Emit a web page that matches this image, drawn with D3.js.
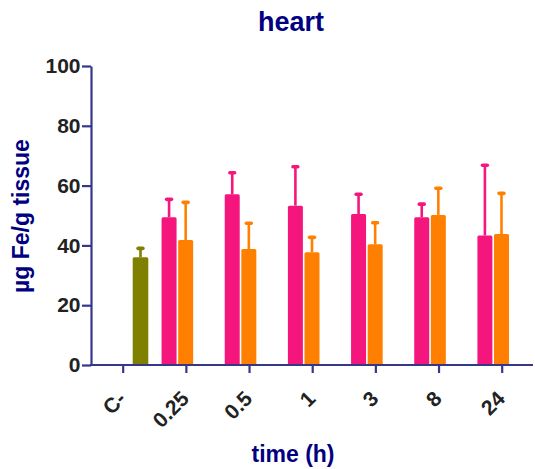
<!DOCTYPE html>
<html>
<head>
<meta charset="utf-8">
<script src="https://cdn.jsdelivr.net/npm/d3@7"></script>
<style>
  body { margin: 0; background: #fff; }
  svg text { font-family: "Liberation Sans", Arial, Helvetica, sans-serif; font-weight: bold; }
</style>
</head>
<body>
<div id="chart"></div>
<script>
// categories on the x axis (time in hours, C- = control)
var categories = ["C-", "0.25", "0.5", "1", "3", "8", "24"];
var yTicks = [0, 20, 40, 60, 80, 100];

// control group (only C-)
var controlMean = [36.0, null, null, null, null, null, null];
var controlErr  = [3.0, null, null, null, null, null, null];

// pink series
var pinkMean = [null, 49.4, 57.1, 53.3, 50.5, 49.4, 43.3];
var pinkErr  = [null, 6.0, 7.2, 13.0, 6.6, 4.4, 23.5];

// orange series
var orangeMean = [null, 41.8, 38.8, 37.7, 40.4, 50.2, 43.8];
var orangeErr  = [null, 12.6, 8.6, 5.0, 7.2, 8.9, 13.6];

function init(){
	var w = 535, h = 469;
	var axisColor = "#34378a";
	var navy = "#000080";

	var svg = d3.select("#chart")
				.append("svg")
				.attr("width", w)
				.attr("height", h);

	var x = d3.scalePoint()
				.domain(categories)
				.range([122.7, 501.7]);
	var y = d3.scaleLinear()
				.domain([0, 100])
				.range([365, 66]);

	var barW = 15;
	//each series: colour and offset of the bar from the tick
	var series = [
		{mean: controlMean, err: controlErr, color: "#808000", off: 10, w: 15.6},
		{mean: pinkMean, err: pinkErr, color: "#f5167d", off: -24.3, w: barW},
		{mean: orangeMean, err: orangeErr, color: "#ff8000", off: -7.7, w: barW}
	];

	series.forEach(function(s){
		var data = categories.map(function(c, i){
			return {cat: c, v: s.mean[i], e: s.err[i]};
		}).filter(function(d){ return d.v != null; });

		var g = svg.append("g");

		//error bar line (upper only)
		g.selectAll("line.err")
			.data(data)
			.enter()
			.append("line")
			.attr("x1", function(d){ return x(d.cat) + s.off + s.w/2; })
			.attr("x2", function(d){ return x(d.cat) + s.off + s.w/2; })
			.attr("y1", function(d){ return y(d.v); })
			.attr("y2", function(d){ return y(d.v + d.e); })
			.attr("stroke", s.color)
			.attr("stroke-width", 2.6);

		//cap
		g.selectAll("rect.cap")
			.data(data)
			.enter()
			.append("rect")
			.attr("x", function(d){ return x(d.cat) + s.off + s.w/2 - 4.2; })
			.attr("y", function(d){ return y(d.v + d.e) - 1.8; })
			.attr("width", 8.4)
			.attr("height", 3.6)
			.attr("rx", 1.8)
			.attr("fill", s.color);

		//bars
		g.selectAll("rect.bar")
			.data(data)
			.enter()
			.append("rect")
			.attr("x", function(d){ return x(d.cat) + s.off; })
			.attr("y", function(d){ return y(d.v); })
			.attr("width", s.w)
			.attr("height", function(d){ return y(0) - y(d.v); })
			.attr("rx", 1.5)
			.attr("fill", s.color);
	});

	//y axis
	var yAxis = svg.append("g")
		.attr("transform", "translate(91,0)")
		.call(d3.axisLeft(y).tickValues(yTicks).tickSize(9).tickSizeOuter(0).tickPadding(1.5));
	yAxis.select(".domain").attr("stroke", axisColor).attr("stroke-width", 2.2);
	yAxis.selectAll(".tick line").attr("stroke", axisColor).attr("stroke-width", 2.2);
	yAxis.selectAll(".tick text")
		.attr("fill", "#222")
		.style("font-size", "21px");

	//x axis
	var xAxis = svg.append("g")
		.attr("transform", "translate(0," + y(0) + ")")
		.call(d3.axisBottom(x).tickSize(8).tickSizeOuter(0));
	xAxis.select(".domain").remove();
	xAxis.selectAll(".tick line").attr("stroke", axisColor).attr("stroke-width", 2.2);
	xAxis.selectAll(".tick text")
		.attr("fill", "#222")
		.style("font-size", "21px")
		.attr("text-anchor", "end")
		.attr("dy", 0)
		.attr("y", 0)
		.attr("transform", "translate(4,35) rotate(-45)");
	xAxis.append("line")
		.attr("x1", 90)
		.attr("x2", 533)
		.attr("stroke", axisColor)
		.attr("stroke-width", 2.2);

	//titles
	svg.append("text")
		.attr("x", 291)
		.attr("y", 31)
		.attr("text-anchor", "middle")
		.attr("fill", navy)
		.style("font-size", "27px")
		.text("heart");

	svg.append("text")
		.attr("x", 293)
		.attr("y", 462)
		.attr("text-anchor", "middle")
		.attr("fill", navy)
		.style("font-size", "23px")
		.text("time (h)");

	svg.append("text")
		.attr("transform", "translate(29,216) rotate(-90)")
		.attr("text-anchor", "middle")
		.attr("fill", navy)
		.style("font-size", "23px")
		.text("µg Fe/g tissue");
}

window.onload = init;
</script>
</body>
</html>
